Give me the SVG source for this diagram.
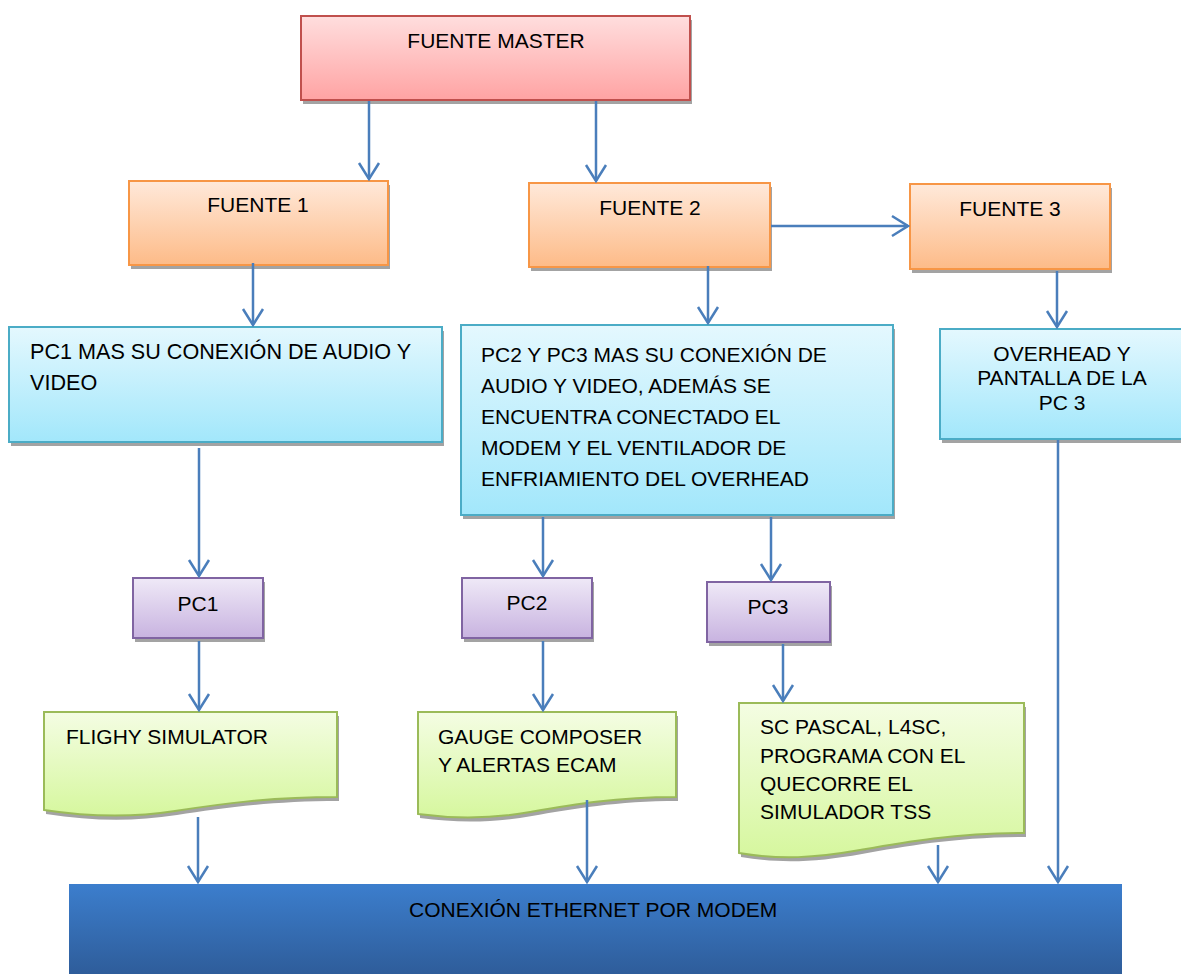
<svg xmlns="http://www.w3.org/2000/svg" width="1181" height="974" viewBox="0 0 1181 974">
  <defs>
    <linearGradient id="gRed" x1="0" y1="0" x2="0" y2="1">
      <stop offset="0" stop-color="#ffdede"/>
      <stop offset="1" stop-color="#ffa3a3"/>
    </linearGradient>
    <linearGradient id="gOrange" x1="0" y1="0" x2="0" y2="1">
      <stop offset="0" stop-color="#ffe9da"/>
      <stop offset="1" stop-color="#fdbb88"/>
    </linearGradient>
    <linearGradient id="gCyan" x1="0" y1="0" x2="0" y2="1">
      <stop offset="0" stop-color="#e4f8fe"/>
      <stop offset="1" stop-color="#a2e7fb"/>
    </linearGradient>
    <linearGradient id="gPurple" x1="0" y1="0" x2="0" y2="1">
      <stop offset="0" stop-color="#efe9f7"/>
      <stop offset="1" stop-color="#c8b3e0"/>
    </linearGradient>
    <linearGradient id="gGreen" x1="0" y1="0" x2="0" y2="1">
      <stop offset="0" stop-color="#f4fde3"/>
      <stop offset="1" stop-color="#d6f79e"/>
    </linearGradient>
    <linearGradient id="gBlue" x1="0" y1="0" x2="0" y2="1">
      <stop offset="0" stop-color="#3c7ecd"/>
      <stop offset="1" stop-color="#2e5c99"/>
    </linearGradient>
    <marker id="arrow" viewBox="0 0 20 24" refX="18" refY="12" markerWidth="20" markerHeight="24" markerUnits="userSpaceOnUse" orient="auto">
      <path d="M2,2 L18,12 L2,22" fill="none" stroke="#4a7ebb" stroke-width="2.5"/>
    </marker>
  </defs>
  <style>
    text { font-family: "Liberation Sans", Arial, sans-serif; font-size: 21px; fill: #000; }
    .wide { font-size: 21.6px; }
    .shadow { fill: #a3a3a3; }
    .red { fill: url(#gRed); stroke: #c0504d; stroke-width: 2; }
    .orange { fill: url(#gOrange); stroke: #f79646; stroke-width: 2; }
    .cyan { fill: url(#gCyan); stroke: #4bacc6; stroke-width: 2; }
    .purple { fill: url(#gPurple); stroke: #8064a2; stroke-width: 2; }
    .green { fill: url(#gGreen); stroke: #9bbb59; stroke-width: 2; }
    .mid { text-anchor: middle; }
    .conn line { stroke: #4a7ebb; stroke-width: 2.5; marker-end: url(#arrow); }
  </style>

  <rect width="1181" height="974" fill="#ffffff"/>

  <!-- power sources -->
  <g id="fuente-master">
    <rect class="shadow" x="303" y="20" width="389" height="84"/>
    <rect class="red" x="301" y="16" width="389" height="84"/>
    <text x="496" y="48" class="mid">FUENTE MASTER</text>
  </g>
  <g id="fuente-1">
    <rect class="shadow" x="131" y="185" width="259" height="84"/>
    <rect class="orange" x="129" y="181" width="259" height="84"/>
    <text x="258" y="212" class="mid">FUENTE 1</text>
  </g>
  <g id="fuente-2">
    <rect class="shadow" x="531" y="187" width="241" height="84"/>
    <rect class="orange" x="529" y="183" width="241" height="84"/>
    <text x="650" y="215" class="mid">FUENTE 2</text>
  </g>
  <g id="fuente-3">
    <rect class="shadow" x="912" y="188" width="200" height="85"/>
    <rect class="orange" x="910" y="184" width="200" height="85"/>
    <text x="1010" y="216" class="mid">FUENTE 3</text>
  </g>

  <!-- equipment fed by each source -->
  <g id="carga-pc1">
    <rect class="shadow" x="11" y="331" width="433" height="115"/>
    <rect class="cyan" x="9" y="327" width="433" height="115"/>
    <text x="30" y="359" class="wide">PC1 MAS SU CONEXIÓN DE AUDIO Y</text>
    <text x="30" y="390" class="wide">VIDEO</text>
  </g>
  <g id="carga-pc2-pc3">
    <rect class="shadow" x="463" y="329" width="432" height="190"/>
    <rect class="cyan" x="461" y="325" width="432" height="190"/>
    <text x="481" y="362">PC2 Y PC3 MAS SU CONEXIÓN DE</text>
    <text x="481" y="393">AUDIO Y VIDEO, ADEMÁS SE</text>
    <text x="481" y="424">ENCUENTRA CONECTADO EL</text>
    <text x="481" y="455">MODEM Y EL VENTILADOR DE</text>
    <text x="481" y="486">ENFRIAMIENTO DEL OVERHEAD</text>
  </g>
  <g id="carga-overhead">
    <rect class="shadow" x="942" y="333" width="250" height="110"/>
    <rect class="cyan" x="940" y="329" width="250" height="110"/>
    <text x="1062" y="361" class="mid">OVERHEAD Y</text>
    <text x="1062" y="385" class="mid">PANTALLA DE LA</text>
    <text x="1062" y="410" class="mid">PC 3</text>
  </g>

  <!-- computers -->
  <g id="pc1">
    <rect class="shadow" x="135" y="582" width="130" height="60"/>
    <rect class="purple" x="133" y="578" width="130" height="60"/>
    <text x="198" y="611" class="mid">PC1</text>
  </g>
  <g id="pc2">
    <rect class="shadow" x="464" y="582" width="130" height="60"/>
    <rect class="purple" x="462" y="578" width="130" height="60"/>
    <text x="527" y="610" class="mid">PC2</text>
  </g>
  <g id="pc3">
    <rect class="shadow" x="709" y="586" width="123" height="60"/>
    <rect class="purple" x="707" y="582" width="123" height="60"/>
    <text x="768" y="614" class="mid">PC3</text>
  </g>

  <!-- software documents -->
  <g id="doc-flighy">
    <path class="shadow" transform="translate(2,4)" d="M44,712 H337 V797 C270,797 220,804 175,811 C130,818 90,817 44,810 Z"/>
    <path class="green" d="M44,712 H337 V797 C270,797 220,804 175,811 C130,818 90,817 44,810 Z"/>
    <text x="66" y="744">FLIGHY SIMULATOR</text>
  </g>
  <g id="doc-gauge">
    <path class="shadow" transform="translate(2,4)" d="M418,712 H676 V797 C615,797 570,805 530,812 C490,819 455,819 418,814 Z"/>
    <path class="green" d="M418,712 H676 V797 C615,797 570,805 530,812 C490,819 455,819 418,814 Z"/>
    <text x="438" y="744">GAUGE COMPOSER</text>
    <text x="438" y="772">Y ALERTAS ECAM</text>
  </g>
  <g id="doc-pascal">
    <path class="shadow" transform="translate(2,4)" d="M739,703 H1024 V833 C955,833 905,842 860,850 C815,858 780,860 739,853 Z"/>
    <path class="green" d="M739,703 H1024 V833 C955,833 905,842 860,850 C815,858 780,860 739,853 Z"/>
    <text x="760" y="734">SC PASCAL, L4SC,</text>
    <text x="760" y="763">PROGRAMA CON EL</text>
    <text x="760" y="791">QUECORRE EL</text>
    <text x="760" y="819">SIMULADOR TSS</text>
  </g>

  <!-- network -->
  <g id="ethernet">
    <rect x="69" y="884" width="1053" height="92" fill="url(#gBlue)"/>
    <text x="409" y="917">CONEXIÓN ETHERNET POR MODEM</text>
  </g>

  <g id="connectors" class="conn">
    <line x1="369" y1="101" x2="369" y2="179"/>
    <line x1="596" y1="101" x2="596" y2="181"/>
    <line x1="771" y1="226" x2="908" y2="226"/>
    <line x1="253" y1="263" x2="253" y2="325"/>
    <line x1="708" y1="266" x2="708" y2="323"/>
    <line x1="1057" y1="271" x2="1057" y2="327"/>
    <line x1="199" y1="448" x2="199" y2="576"/>
    <line x1="543" y1="517" x2="543" y2="576"/>
    <line x1="771" y1="517" x2="771" y2="580"/>
    <line x1="199" y1="641" x2="199" y2="710"/>
    <line x1="543" y1="641" x2="543" y2="710"/>
    <line x1="783" y1="644" x2="783" y2="701"/>
    <line x1="198" y1="817" x2="198" y2="882"/>
    <line x1="587" y1="800" x2="587" y2="882"/>
    <line x1="938" y1="845" x2="938" y2="882"/>
    <line x1="1058" y1="440" x2="1058" y2="882"/>
  </g>
</svg>
